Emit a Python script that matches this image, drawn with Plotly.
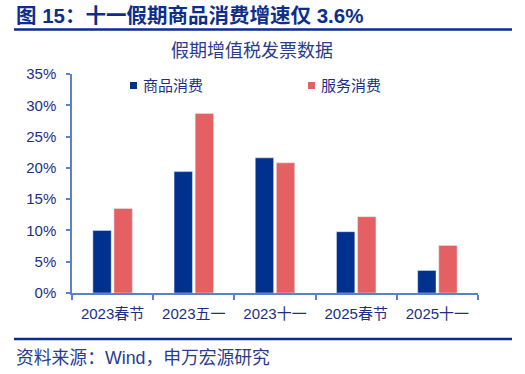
import plotly.graph_objects as go

categories = ["2023春节", "2023五一", "2023十一", "2025春节", "2025十一"]
goods = [10.0, 19.4, 21.6, 9.8, 3.6]
services = [13.5, 28.7, 20.8, 12.2, 7.6]
series_names = ["商品消费", "服务消费"]
y_ticks = [0, 5, 10, 15, 20, 25, 30, 35]
y_tick_labels = [f"{v}%" for v in y_ticks]

NAVY = "#00318F"
RED = "#E46062"
AXIS = "#5A80D4"
TXT = "#1B2F86"
FONT = "Liberation Sans, Arial, Noto Sans CJK SC"

L, T, W, H = 72, 74, 406, 219


def px(x):
    return (x - L) / W


def py(y):
    return (T + H - y) / H


fig = go.Figure()
fig.add_trace(go.Bar(x=categories, y=goods, name=series_names[0], marker_color=NAVY, showlegend=False))
fig.add_trace(go.Bar(x=categories, y=services, name=series_names[1], marker_color=RED, showlegend=False))

fig.update_layout(
    width=525, height=374, autosize=False,
    margin=dict(l=L, r=525 - L - W, t=T, b=374 - T - H, autoexpand=False),
    paper_bgcolor="white", plot_bgcolor="white",
    barmode="group", bargap=0.48, bargroupgap=0.13,
    font=dict(family=FONT, color=TXT, size=15),
)
fig.update_xaxes(
    showline=True, linecolor=AXIS, linewidth=1.5,
    ticks="outside", tickson="boundaries", ticklen=5, tickcolor=AXIS, tickwidth=1.5,
    tickfont=dict(size=15, color=TXT), ticklabelstandoff=6,
    showgrid=False, automargin=False,
)
fig.update_yaxes(
    range=[0, 35], tickvals=y_ticks, ticktext=y_tick_labels,
    showline=True, linecolor=AXIS, linewidth=1.5,
    ticks="outside", ticklen=4, tickcolor=AXIS, tickwidth=1.5,
    tickfont=dict(size=15, color=TXT), ticklabelstandoff=7,
    showgrid=False, zeroline=False, automargin=False,
)

# title and underline
fig.add_annotation(text="<b>图 15：十一假期商品消费增速仅 3.6%</b>", xref="paper", yref="paper",
                   x=px(14), y=py(16), xanchor="left", yanchor="middle",
                   showarrow=False, font=dict(size=20.5, color="#0C2F8E", family=FONT))
fig.add_shape(type="line", xref="paper", yref="paper",
              x0=px(14), x1=px(512), y0=py(29.5), y1=py(29.5),
              line=dict(color="#0A2D8E", width=2.5))
# subtitle
fig.add_annotation(text="假期增值税发票数据", xref="paper", yref="paper",
                   x=px(252), y=py(51), xanchor="center", yanchor="middle",
                   showarrow=False, font=dict(size=18, color="#2A3C8E", family=FONT))
# legend
for name, color, sx in [(series_names[0], NAVY, 130), (series_names[1], RED, 308)]:
    fig.add_shape(type="rect", xref="paper", yref="paper",
                  x0=px(sx), x1=px(sx + 7), y0=py(89), y1=py(82),
                  fillcolor=color, line=dict(width=0))
    fig.add_annotation(text=name, xref="paper", yref="paper",
                       x=px(sx + 11), y=py(85.5), xanchor="left", yanchor="middle",
                       showarrow=False, font=dict(size=15, color=TXT, family=FONT))
# footer
fig.add_shape(type="line", xref="paper", yref="paper",
              x0=px(14), x1=px(512), y0=py(339), y1=py(339),
              line=dict(color="#0A2D8E", width=2.5))
fig.add_annotation(text="资料来源：Wind，申万宏源研究", xref="paper", yref="paper",
                   x=px(14), y=py(358), xanchor="left", yanchor="middle",
                   showarrow=False, font=dict(size=17.8, color="#2A3C8E", family=FONT))

fig.write_html("out.html", config={"displayModeBar": False},
               post_script="document.body.style.margin='0';document.body.style.overflow='hidden';")
